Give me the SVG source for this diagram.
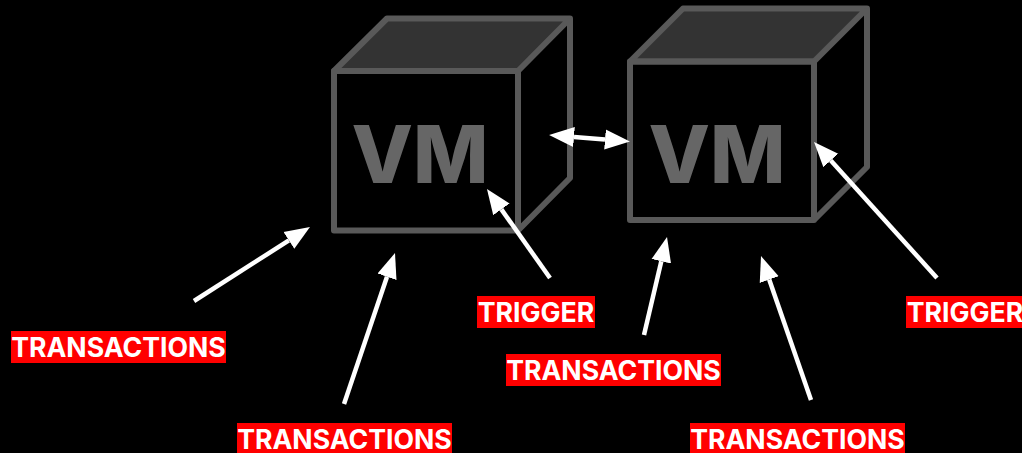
<svg xmlns="http://www.w3.org/2000/svg" width="1022" height="453" viewBox="0 0 1022 453">
<style>
.edge{fill:none;stroke:#595959;stroke-width:6;stroke-linejoin:round}
.top{fill:#333;stroke:#595959;stroke-width:6;stroke-linejoin:round}
.vm{font-family:Inter,"Liberation Sans",Arial,sans-serif;font-weight:800;font-size:80px;fill:#666;text-anchor:middle}
.tag{fill:#f00}
.lbl{font-family:Inter,"Liberation Sans",sans-serif;font-weight:700;font-size:26.670px;fill:#fff;text-anchor:middle}
.arrow{fill:none;stroke:#fff;stroke-width:4.500;marker-end:url(#head)}
</style>
<defs>
<marker id="head" markerUnits="userSpaceOnUse" markerWidth="26" markerHeight="22" refX="0" refY="10.5" orient="auto-start-reverse"><path d="M0,0.5L25,10.5L0,20.5Z" fill="#fff"/></marker>
</defs>
<rect width="1022" height="453" fill="#000"/>
<g id="vm1">
<path class="top" d="M334,71L387,18.500H570L518,71Z"/>
<path class="edge" d="M334,71H518V230.500H334ZM518,230.500L570,178V18.500"/>
<text class="vm" x="420" y="183">VM</text>
</g>
<g id="vm2">
<path class="top" d="M630,61.500L683,8.500H867L814,61.500Z"/>
<path class="edge" d="M630,61.500H814V220H630ZM814,220L867,167V8.500"/>
<text class="vm" x="717" y="183">VM</text>
</g>
<g id="connectors">
<path class="arrow" d="M194,301L288.900,240.400"/>
<path class="arrow" d="M344,404L387,276.700"/>
<path class="arrow" d="M550,278L501.400,209.400"/>
<path class="arrow" d="M644,335L661.300,261.300"/>
<path class="arrow" d="M811,400L769.200,279.600"/>
<path class="arrow" d="M937,278L830.800,160.500"/>
<path class="arrow" style="marker-start:url(#head)" d="M574,137L605,139.500"/>
</g>
<g id="label-t1"><rect class="tag" x="11" y="331" width="215" height="32"/><text class="lbl" x="118.500" y="356.500">TRANSACTIONS</text></g>
<g id="label-t2"><rect class="tag" x="237" y="423" width="215" height="32"/><text class="lbl" x="344.500" y="448.500">TRANSACTIONS</text></g>
<g id="label-t3"><rect class="tag" x="506" y="354" width="215" height="32"/><text class="lbl" x="613.500" y="379.500">TRANSACTIONS</text></g>
<g id="label-t4"><rect class="tag" x="690" y="423" width="215" height="32"/><text class="lbl" x="797.500" y="448.500">TRANSACTIONS</text></g>
<g id="label-trigger1"><rect class="tag" x="477" y="296" width="118" height="32"/><text class="lbl" x="536" y="321.500">TRIGGER</text></g>
<g id="label-trigger2"><rect class="tag" x="906" y="296" width="118" height="32"/><text class="lbl" x="965" y="321.500">TRIGGER</text></g>
</svg>
